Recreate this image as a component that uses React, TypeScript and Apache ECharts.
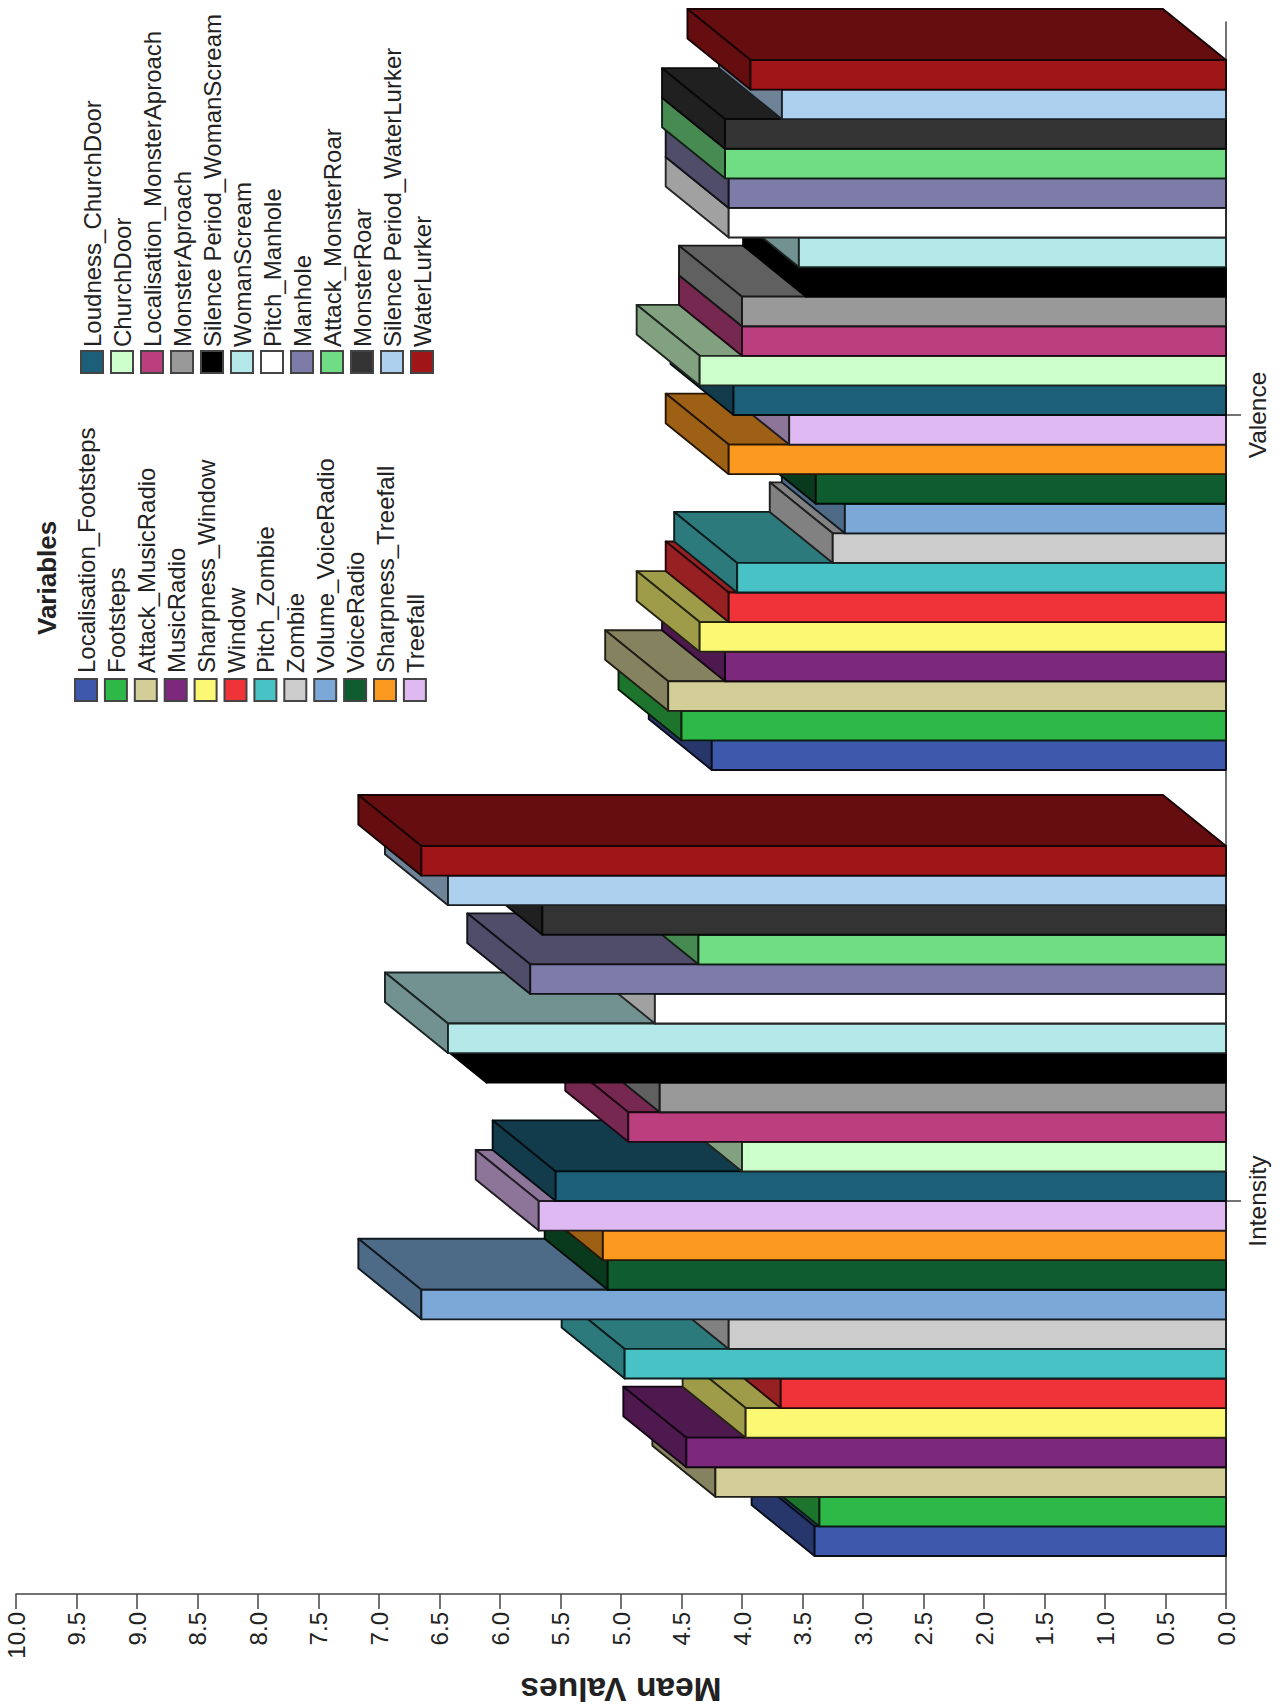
import React, { useEffect, useRef } from "react";
import * as echarts from "echarts";

const WIDTH = 1282;
const HEIGHT = 1708;

const dimensions = ["Intensity", "Valence"];
const valueTicks = { min: 0, max: 10, interval: 0.5 };

const variableNames = [
  "Localisation_Footsteps",
  "Footsteps",
  "Attack_MusicRadio",
  "MusicRadio",
  "Sharpness_Window",
  "Window",
  "Pitch_Zombie",
  "Zombie",
  "Volume_VoiceRadio",
  "VoiceRadio",
  "Sharpness_Treefall",
  "Treefall",
  "Loudness_ChurchDoor",
  "ChurchDoor",
  "Localisation_MonsterAproach",
  "MonsterAproach",
  "Silence Period_WomanScream",
  "WomanScream",
  "Pitch_Manhole",
  "Manhole",
  "Attack_MonsterRoar",
  "MonsterRoar",
  "Silence Period_WaterLurker",
  "WaterLurker",
];

const intensityMeans = [
  3.4, 3.36, 4.22, 4.46, 3.97, 3.68, 4.97, 4.11, 6.65, 5.11, 5.15, 5.68,
  5.54, 4.0, 4.94, 4.68, 6.11, 6.43, 4.72, 5.75, 4.36, 5.65, 6.43, 6.65,
];

const valenceMeans = [
  4.25, 4.5, 4.61, 4.14, 4.35, 4.11, 4.04, 3.25, 3.15, 3.39, 4.11, 3.61,
  4.07, 4.35, 4.0, 4.0, 3.47, 3.53, 4.11, 4.11, 4.14, 4.14, 3.67, 3.93,
];

const variableColors = [
  "#3e58ac", "#2eb848", "#d3ce97", "#7c287d", "#fbf873", "#ef3338",
  "#48c2c5", "#cccccc", "#7ba8d6", "#0e5c2f", "#fb991f", "#deb9f2",
  "#1c5f78", "#ccffcc", "#bb3f7f", "#999999", "#000000", "#b5e8e8",
  "#ffffff", "#7d7ba8", "#70dd84", "#333333", "#aed0ef", "#a01518",
];

// The 3D effect: each bar's receding faces are offset by a fixed screen vector.
const DEPTH_X = -63;
const DEPTH_Y = -51;
const CLUSTER_SHARE = 0.9033;
const FONT = '"Liberation Sans", Arial, sans-serif';

function shade(hex: string, k: number) {
  const n = parseInt(hex.slice(1), 16);
  const c = (v: number) => Math.round(v * k);
  return `rgb(${c((n >> 16) & 255)},${c((n >> 8) & 255)},${c(n & 255)})`;
}

function renderBar(params: any, api: any) {
  const v = api.value(0);
  const cat = api.value(1);
  const i = params.seriesIndex;
  const color = variableColors[i];
  const [x0, yc] = api.coord([0, cat]);
  const [x1] = api.coord([v, cat]);
  const band = api.size([0, 1])[1];
  const thick = (band * CLUSTER_SHARE) / variableNames.length;
  const yBottom = yc + (band * CLUSTER_SHARE) / 2 - i * thick;
  const yTop = yBottom - thick;
  const edge = { stroke: shade(color, 0.15), lineWidth: 1.9, lineJoin: "round" };
  const dark = shade(color, 0.63);
  return {
    type: "group",
    children: [
      {
        type: "polygon",
        shape: {
          points: [
            [x1, yTop],
            [x0, yTop],
            [x0 + DEPTH_X, yTop + DEPTH_Y],
            [x1 + DEPTH_X, yTop + DEPTH_Y],
          ],
        },
        style: { fill: dark, ...edge },
      },
      {
        type: "polygon",
        shape: {
          points: [
            [x1, yTop],
            [x1, yBottom],
            [x1 + DEPTH_X, yBottom + DEPTH_Y],
            [x1 + DEPTH_X, yTop + DEPTH_Y],
          ],
        },
        style: { fill: dark, ...edge },
      },
      {
        type: "polygon",
        shape: {
          points: [
            [x1, yTop],
            [x0, yTop],
            [x0, yBottom],
            [x1, yBottom],
          ],
        },
        style: { fill: color, ...edge },
      },
    ],
  };
}

// Legend entries are laid out sideways, so they are drawn as rotated graphics.
function legendColumn(start: number, count: number, x0: number, step: number, swatchTop: number, textY: number, textDx: number) {
  const out: any[] = [];
  for (let k = 0; k < count; k++) {
    const idx = start + k;
    const cx = x0 + k * step;
    out.push({
      type: "rect",
      shape: { x: cx - 11, y: swatchTop, width: 22, height: 22 },
      style: { fill: variableColors[idx], stroke: "#444", lineWidth: 2 },
    });
    out.push({
      type: "text",
      x: cx + textDx,
      y: textY,
      rotation: Math.PI / 2,
      style: {
        text: variableNames[idx],
        font: `24px ${FONT}`,
        fill: "#222",
        align: "left",
        verticalAlign: "middle",
      },
    });
  }
  return out;
}

export default function App() {
  const ref = useRef<HTMLDivElement>(null);

  useEffect(() => {
    if (!ref.current) return;
    const chart = echarts.init(ref.current, undefined, { renderer: "svg" });
    chart.setOption({
      animation: false,
      backgroundColor: "#ffffff",
      grid: { left: 16, right: 56, top: 22, bottom: 114, outerBoundsMode: "none" },
      xAxis: {
        type: "value",
        inverse: true,
        min: valueTicks.min,
        max: valueTicks.max,
        interval: valueTicks.interval,
        name: "Mean Values",
        nameLocation: "middle",
        nameRotate: 180,
        nameGap: 78,
        nameTextStyle: { fontFamily: FONT, fontWeight: "bold", fontSize: 33.5, color: "#222" },
        splitLine: { show: false },
        axisLine: { show: true, onZero: false, lineStyle: { color: "#444", width: 1.5 } },
        axisTick: { show: true, length: 15, lineStyle: { color: "#444", width: 1.5 } },
        axisLabel: {
          rotate: 90,
          margin: 18,
          fontFamily: FONT,
          fontSize: 24,
          color: "#222",
          padding: [9, 0, 0, 0],
          formatter: (v: number) => v.toFixed(1),
        },
      },
      yAxis: {
        type: "category",
        position: "right",
        data: dimensions,
        axisLine: { show: true, onZero: false, lineStyle: { color: "#444", width: 1.5 } },
        axisTick: { show: true, alignWithLabel: true, length: 15, lineStyle: { color: "#444", width: 1.5 } },
        axisLabel: { rotate: 90, margin: 19, fontFamily: FONT, fontSize: 24.5, color: "#222" },
      },
      series: variableNames.map((name, i) => ({
        type: "custom",
        name,
        renderItem: renderBar,
        encode: { x: 0, y: 1 },
        data: [
          [intensityMeans[i], 0],
          [valenceMeans[i], 1],
        ],
      })),
      graphic: {
        elements: [
          {
            type: "text",
            x: 47,
            y: 635,
            rotation: Math.PI / 2,
            style: {
              text: "Variables",
              font: `bold 26px ${FONT}`,
              fill: "#222",
              align: "left",
              verticalAlign: "middle",
            },
          },
          ...legendColumn(0, 12, 86, 29.9, 679, 673, 0.5),
          ...legendColumn(12, 12, 92, 30, 351, 347, 0.5),
        ],
      },
    });
    return () => chart.dispose();
  }, []);

  return <div ref={ref} style={{ position: "absolute", left: 0, top: 0, width: WIDTH, height: HEIGHT }} />;
}
